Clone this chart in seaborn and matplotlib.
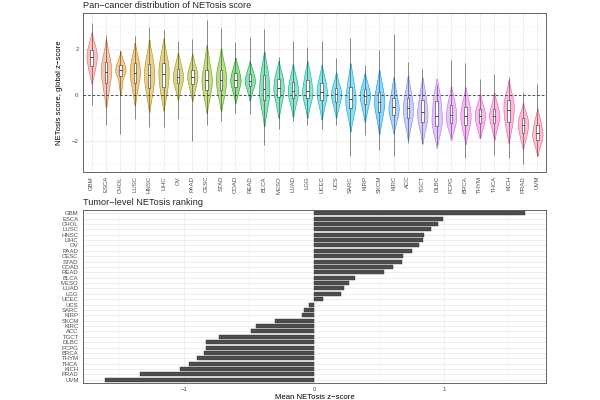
import numpy as np
import pandas as pd
import matplotlib
matplotlib.use("Agg")
import matplotlib.pyplot as plt
import seaborn as sns

# ---------------- data ----------------
cancers = ["GBM", "ESCA", "CHOL", "LUSC", "HNSC", "LIHC", "OV", "PAAD", "CESC", "STAD",
           "COAD", "READ", "BLCA", "MESO", "LUAD", "LGG", "UCEC", "UCS", "SARC", "KIRP",
           "SKCM", "KIRC", "ACC", "TGCT", "DLBC", "PCPG", "BRCA", "THYM", "THCA", "KICH",
           "PRAD", "UVM"]

# per-cancer score summary:
# min, p12.5, q1, p37.5, median, p62.5, q3, p87.5, max
dist_GBM  = [-0.43, 0.95, 1.26, 1.48, 1.67, 1.84, 1.99, 2.30, 3.16]
dist_ESCA = [-1.30, 0.05, 0.51, 0.80, 1.01, 1.25, 1.45, 1.85, 2.65]
dist_CHOL = [-1.70, 0.40, 0.84, 0.98, 1.09, 1.20, 1.30, 1.55, 1.99]
dist_LUSC = [-1.04, 0.10, 0.54, 0.78, 0.97, 1.18, 1.40, 1.75, 2.60]
dist_HNSC = [-1.38, -0.10, 0.33, 0.63, 0.87, 1.12, 1.38, 1.80, 3.00]
dist_LIHC = [-1.38, -0.05, 0.36, 0.66, 0.94, 1.18, 1.42, 1.85, 2.85]
dist_OV   = [-1.04, 0.20, 0.51, 0.67, 0.80, 0.97, 1.16, 1.45, 2.39]
dist_PAAD = [-2.03, 0.15, 0.48, 0.65, 0.80, 0.95, 1.09, 1.40, 2.45]
dist_CESC = [-1.30, -0.20, 0.22, 0.44, 0.65, 0.88, 1.12, 1.60, 3.29]
dist_STAD = [-1.13, -0.15, 0.22, 0.45, 0.68, 0.90, 1.09, 1.50, 2.94]
dist_COAD = [-0.80, 0.05, 0.36, 0.52, 0.65, 0.80, 0.97, 1.25, 2.32]
dist_READ = [-0.83, 0.10, 0.39, 0.52, 0.62, 0.76, 0.91, 1.15, 2.54]
dist_BLCA = [-2.20, -0.70, -0.22, 0.02, 0.25, 0.55, 0.87, 1.25, 2.90]
dist_MESO = [-1.48, -0.50, -0.10, 0.10, 0.29, 0.50, 0.72, 1.00, 1.67]
dist_LUAD = [-1.13, -0.50, -0.14, 0.03, 0.19, 0.38, 0.58, 0.90, 2.39]
dist_LGG  = [-1.30, -0.50, -0.14, 0.03, 0.19, 0.40, 0.65, 1.00, 2.10]
dist_UCEC = [-1.48, -0.60, -0.22, -0.05, 0.13, 0.32, 0.51, 0.85, 2.39]
dist_UCS  = [-1.30, -0.60, -0.29, -0.13, 0.03, 0.16, 0.29, 0.60, 1.62]
dist_SARC = [-2.68, -1.00, -0.58, -0.38, -0.19, 0.08, 0.36, 0.80, 2.51]
dist_KIRP = [-1.74, -0.75, -0.39, -0.22, -0.04, 0.10, 0.25, 0.55, 1.33]
dist_SKCM = [-2.39, -1.15, -0.72, -0.50, -0.29, -0.08, 0.14, 0.55, 1.96]
dist_KIRC = [-2.68, -1.20, -0.87, -0.70, -0.54, -0.35, -0.14, 0.30, 2.68]
dist_ACC  = [-2.10, -1.40, -1.01, -0.80, -0.58, -0.36, -0.14, 0.30, 1.45]
dist_TGCT = [-2.14, -1.55, -1.16, -0.95, -0.75, -0.50, -0.22, 0.20, 1.13]
dist_DLBC = [-2.17, -1.70, -1.35, -1.12, -0.91, -0.60, -0.25, 0.10, 0.43]
dist_PCPG = [-1.88, -1.50, -1.23, -1.05, -0.87, -0.65, -0.43, -0.10, 1.52]
dist_BRCA = [-2.75, -1.65, -1.30, -1.10, -0.91, -0.70, -0.51, -0.15, 1.40]
dist_THYM = [-1.88, -1.50, -1.23, -1.07, -0.91, -0.77, -0.62, -0.35, 0.72]
dist_THCA = [-2.61, -1.55, -1.23, -1.07, -0.91, -0.77, -0.62, -0.30, 0.91]
dist_KICH = [-2.75, -1.55, -1.16, -0.90, -0.65, -0.45, -0.22, 0.10, 0.80]
dist_PRAD = [-3.04, -1.95, -1.67, -1.48, -1.30, -1.15, -1.01, -0.75, 0.14]
dist_UVM  = [-2.68, -2.25, -1.96, -1.82, -1.67, -1.50, -1.30, -1.00, 0.48]

distributions = [dist_GBM, dist_ESCA, dist_CHOL, dist_LUSC, dist_HNSC, dist_LIHC, dist_OV,
                 dist_PAAD, dist_CESC, dist_STAD, dist_COAD, dist_READ, dist_BLCA, dist_MESO,
                 dist_LUAD, dist_LGG, dist_UCEC, dist_UCS, dist_SARC, dist_KIRP, dist_SKCM,
                 dist_KIRC, dist_ACC, dist_TGCT, dist_DLBC, dist_PCPG, dist_BRCA, dist_THYM,
                 dist_THCA, dist_KICH, dist_PRAD, dist_UVM]

# mean NETosis z-score per cancer (bottom panel)
mean_scores = [1.62, 0.99, 0.956, 0.90, 0.846, 0.84, 0.81, 0.754, 0.687, 0.675,
               0.61, 0.536, 0.313, 0.267, 0.23, 0.203, 0.067, -0.036, -0.082, -0.092,
               -0.30, -0.45, -0.49, -0.73, -0.83, -0.83, -0.85, -0.90, -0.96, -1.03,
               -1.34, -1.61]

top_yticks = [-2, 0, 2]
bottom_xticks = [-1, 0, 1]


# ---------------- colours (ggplot hue palette) ----------------
def hcl_to_rgb(h, c=100.0, l=65.0):
    hr = np.deg2rad(h)
    u, v = c * np.cos(hr), c * np.sin(hr)
    Xn, Yn, Zn = 95.047, 100.0, 108.883
    den = Xn + 15 * Yn + 3 * Zn
    un, vn = 4 * Xn / den, 9 * Yn / den
    Y = Yn * ((l + 16) / 116) ** 3
    up, vp = u / (13 * l) + un, v / (13 * l) + vn
    X = Y * 9 * up / (4 * vp)
    Z = Y * (12 - 3 * up - 20 * vp) / (4 * vp)
    X, Y, Z = X / 100, Y / 100, Z / 100
    r = 3.2404542 * X - 1.5371385 * Y - 0.4985314 * Z
    g = -0.9692660 * X + 1.8760108 * Y + 0.0415560 * Z
    b = 0.0556434 * X - 0.2040259 * Y + 1.0572252 * Z
    out = []
    for ch in (r, g, b):
        ch = 12.92 * ch if ch <= 0.0031308 else 1.055 * ch ** (1 / 2.4) - 0.055
        out.append(float(min(max(ch, 0), 1)))
    return tuple(out)

hues = np.linspace(15, 375, len(cancers) + 1)[:-1]
colors = [hcl_to_rgb(h) for h in hues]
# fill = hue colour at ~0.45 alpha over white, outline = hue colour
fill_colors = [tuple(0.45 * c + 0.55 for c in col) for col in colors]
edge_colors = [tuple(0.9 * c for c in col) for col in colors]
palette = dict(zip(cancers, fill_colors))

# ---------------- tidy tables ----------------
rows_box, rows_vio = [], []
for cat, d in zip(cancers, distributions):
    for i, v in enumerate(d):
        rows_box.append((cat, v))
        if 0 < i < len(d) - 1:
            rows_vio.append((cat, v))
df_box = pd.DataFrame(rows_box, columns=["cancer", "score"])
df_vio = pd.DataFrame(rows_vio, columns=["cancer", "score"])
df_bar = pd.DataFrame({"cancer": cancers, "mean": mean_scores})

# ---------------- figure ----------------
sns.set_theme(style="white")
plt.rcParams["font.family"] = ["Liberation Sans", "DejaVu Sans"]

fig = plt.figure(figsize=(6, 4), dpi=100, facecolor="white")
ax1 = fig.add_axes([83 / 600, 1 - 171.5 / 400, 463 / 600, 158.5 / 400])
ax2 = fig.add_axes([83 / 600, 1 - 383 / 400, 463 / 600, 173 / 400])

grid_major = "#EBEBEB"
grid_minor = "#F4F4F4"
tick_col = "#4D4D4D"
border_col = "#4D4D4D"

# ---- top panel ----
sns.violinplot(data=df_vio, x="cancer", y="score", hue="cancer", order=cancers,
               hue_order=cancers, palette=palette, saturation=1, inner=None,
               cut=1.7, bw_adjust=0.85, density_norm="area", width=0.72,
               linewidth=0.4, legend=False, ax=ax1)
for poly, fc, ec in zip(list(ax1.collections), fill_colors, edge_colors):
    poly.set_alpha(None)
    poly.set_facecolor(fc)
    poly.set_edgecolor(ec)
    poly.set_linewidth(0.4)
    poly.set_zorder(2)

ax1.axhline(0, color="#333333", lw=0.6, ls=(0, (3, 2.5)), zorder=2.5)

sns.boxplot(data=df_box, x="cancer", y="score", order=cancers, whis=(0, 100),
            width=0.17, fliersize=0, color="white", linecolor="#333333",
            linewidth=0.4, saturation=1, ax=ax1,
            whiskerprops=dict(color="#1A1A1A", alpha=0.75, linewidth=0.45),
            capprops=dict(linewidth=0),
            medianprops=dict(color="#222222", linewidth=0.6))
for p in ax1.patches:
    p.set_zorder(3)
for ln in ax1.lines:
    if ln.get_zorder() < 3:
        ln.set_zorder(3)

ax1.set_xlim(-0.6, len(cancers) - 0.4)
ax1.set_ylim(-3.35, 3.6)
ax1.set_yticks(top_yticks)
ax1.set_yticklabels([str(t).replace("-", "\u2212") for t in top_yticks])
ax1.set_yticks([-3, -1, 1, 3], minor=True)
ax1.set_xticks(range(len(cancers)))
ax1.set_xticklabels(cancers, rotation=90)
ax1.set_xlabel("")
ax1.set_ylabel("NETosis score, global z\u2212score", fontsize=5.6, labelpad=6)
ax1.set_title("Pan\u2212cancer distribution of NETosis score", loc="left",
              fontsize=6.6, pad=3.5)
ax1.grid(True, which="major", color=grid_major, lw=0.6, zorder=0)
ax1.grid(True, which="minor", axis="y", color=grid_minor, lw=0.35, zorder=0)
ax1.set_axisbelow(True)

# ---- bottom panel ----
sns.barplot(data=df_bar, x="mean", y="cancer", order=cancers, orient="h",
            color="#4D4D4D", saturation=1, width=0.75, ax=ax2,
            edgecolor="#333333", linewidth=0.3)
ax2.set_ylim(len(cancers) - 0.4, -0.6)
ax2.set_xlim(-1.78, 1.785)
ax2.set_xticks(bottom_xticks)
ax2.set_xticklabels([str(t).replace("-", "\u2212") for t in bottom_xticks])
ax2.set_xticks([-1.5, -0.5, 0.5, 1.5], minor=True)
ax2.set_ylabel("")
ax2.set_xlabel("Mean NETosis z\u2212score", fontsize=5.6, labelpad=1.0)
ax2.set_title("Tumor\u2212level NETosis ranking", loc="left", fontsize=6.6, pad=3.5)
ax2.grid(True, which="major", color=grid_major, lw=0.6, zorder=0)
ax2.grid(True, which="minor", axis="x", color=grid_minor, lw=0.35, zorder=0)
ax2.set_axisbelow(True)

for ax in (ax1, ax2):
    ax.set_facecolor("white")
    for s in ax.spines.values():
        s.set_visible(True)
        s.set_color(border_col)
        s.set_linewidth(0.6)
    ax.tick_params(axis="both", which="major", length=2, width=0.5, color="#333333",
                   labelsize=4.3, labelcolor=tick_col, pad=1.2, direction="out")
    ax.tick_params(axis="both", which="minor", length=0)
    ax.xaxis.label.set_color("black")
    ax.yaxis.label.set_color("black")

fig.savefig("out.png", dpi=100, facecolor="white")
